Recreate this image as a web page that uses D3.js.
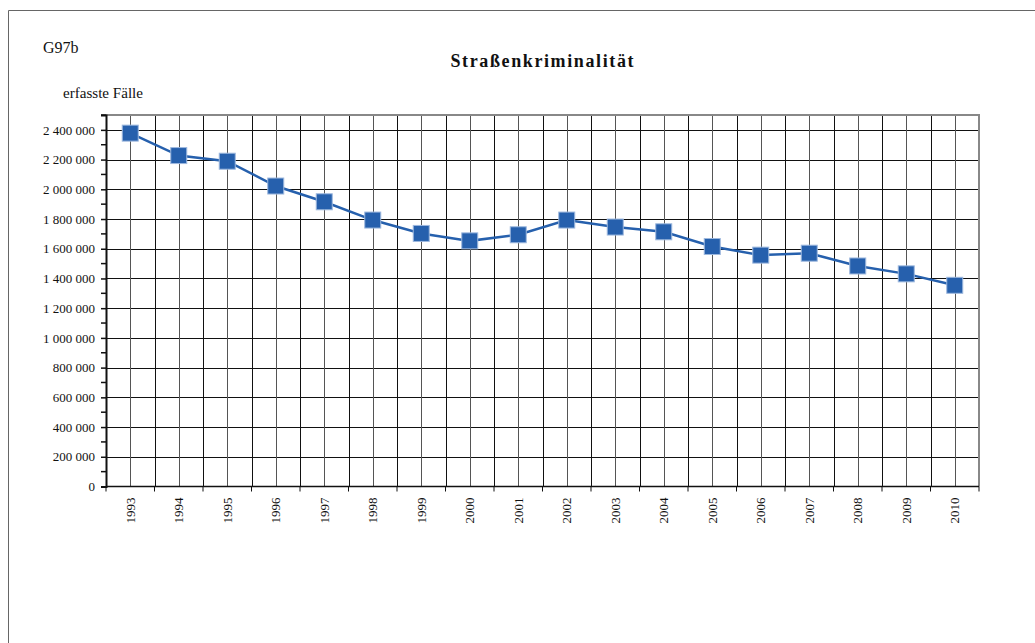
<!DOCTYPE html>
<html><head><meta charset="utf-8">
<script src="https://cdn.jsdelivr.net/npm/d3@7"></script>
<style>
html,body{margin:0;padding:0;background:#fff;}
svg{display:block;}
svg text{font-family:"Liberation Serif","Times New Roman",serif !important;}
</style></head>
<body>
<svg id="c" width="1035" height="643"></svg>
<script>
const years = ["1993","1994","1995","1996","1997","1998","1999","2000","2001","2002","2003","2004","2005","2006","2007","2008","2009","2010"];
const cases = [2378000,2227000,2189000,2022000,1916000,1793000,1703000,1653000,1694000,1793000,1746000,1714000,1615000,1557000,1570000,1484000,1431000,1354000];
const yTicks = [0,200000,400000,600000,800000,1000000,1200000,1400000,1600000,1800000,2000000,2200000,2400000];
const yMinor = [100000,300000,500000,700000,900000,1100000,1300000,1500000,1700000,1900000,2100000,2300000,2500000];
const chartTitle = "Straßenkriminalität";
const chartId = "G97b";
const yTitle = "erfasste Fälle";

const svg = d3.select("#c");
const L = 106, R = 979, T = 115, B = 486.5;
const x = d3.scaleBand().domain(years).range([L, R]).padding(0);
const y = d3.scaleLinear().domain([0, 2500000]).range([B, T]);
const blue = "#2660AD";

// outer frame
svg.append("line").attr("x1",8.5).attr("x2",1035).attr("y1",10.5).attr("y2",10.5).attr("stroke","#666").attr("stroke-width",1);
svg.append("line").attr("x1",8.5).attr("x2",8.5).attr("y1",10.5).attr("y2",643).attr("stroke","#666").attr("stroke-width",1);

// texts
svg.append("text").attr("x",43).attr("y",53).attr("font-size",16).attr("fill","#111").text(chartId);
svg.append("text").attr("x",542).attr("y",67).attr("text-anchor","middle").attr("font-size",18).attr("font-weight","bold")
  .attr("textLength",183).attr("lengthAdjust","spacing").attr("fill","#111").text(chartTitle);
svg.append("text").attr("x",63).attr("y",98).attr("font-size",14).attr("textLength",80).attr("lengthAdjust","spacingAndGlyphs").attr("fill","#111").text(yTitle);

// gridlines horizontal
const g = svg.append("g");
g.selectAll("line.h").data(yTicks.filter(d=>d>0)).join("line")
  .attr("x1",L).attr("x2",R).attr("y1",d=>Math.round(y(d))+0.5).attr("y2",d=>Math.round(y(d))+0.5)
  .attr("stroke","#111").attr("stroke-width",1);
// vertical gridlines: category centers and boundaries
const bounds = years.slice(1).map(d=>x(d));
g.selectAll("line.vb").data(bounds).join("line")
  .attr("x1",d=>Math.round(d)+0.5).attr("x2",d=>Math.round(d)+0.5).attr("y1",T).attr("y2",B)
  .attr("stroke","#111").attr("stroke-width",1);
g.selectAll("line.vc").data(years).join("line")
  .attr("x1",d=>Math.round(x(d)+x.bandwidth()/2)+0.5).attr("x2",d=>Math.round(x(d)+x.bandwidth()/2)+0.5).attr("y1",T).attr("y2",B)
  .attr("stroke","#555").attr("stroke-width",1);

// plot border top/right
svg.append("line").attr("x1",L).attr("x2",R+1).attr("y1",T).attr("y2",T).attr("stroke","#888").attr("stroke-width",2);
svg.append("line").attr("x1",R).attr("x2",R).attr("y1",T).attr("y2",B).attr("stroke","#888").attr("stroke-width",2);

// y axis
const yAxis = d3.axisLeft(y).tickValues(yTicks).tickSize(5).tickPadding(6)
  .tickFormat(d => d3.format(",")(d).replace(/,/g," "));
const ya = svg.append("g").attr("transform",`translate(${L},0)`).call(yAxis).attr("font-family",null);
ya.select(".domain").attr("stroke","#111").attr("stroke-width",2);
ya.selectAll(".tick line").attr("stroke","#111").attr("stroke-width",1.5);
ya.selectAll(".tick text").attr("font-size",13).attr("fill","#111");
svg.append("g").selectAll("line").data(yMinor).join("line")
  .attr("x1",L-5).attr("x2",L).attr("y1",d=>y(d)).attr("y2",d=>y(d)).attr("stroke","#111").attr("stroke-width",1.5);

// x axis
const xa = svg.append("g").attr("transform",`translate(0,${B})`);
xa.append("line").attr("x1",L).attr("x2",R).attr("y1",0).attr("y2",0).attr("stroke","#111").attr("stroke-width",1.5);
xa.selectAll("line.t").data(years.map(d=>x(d)).concat([R])).join("line")
  .attr("x1",d=>d).attr("x2",d=>d).attr("y1",0).attr("y2",5).attr("stroke","#111").attr("stroke-width",1);
xa.selectAll("text").data(years).join("text")
  .attr("transform",d=>`translate(${x(d)+x.bandwidth()/2},11) rotate(-90)`)
  .attr("text-anchor","end").attr("dy","0.35em").attr("font-size",13).attr("fill","#111").text(d=>d);

// line + markers
const pts = years.map((d,i)=>[x(d)+x.bandwidth()/2, y(cases[i])]);
svg.append("path").attr("d",d3.line()(pts)).attr("fill","none").attr("stroke",blue).attr("stroke-width",2.5);
svg.append("g").selectAll("rect").data(years).join("rect")
  .attr("x",(d,i)=>x(d)+x.bandwidth()/2-8).attr("y",(d,i)=>y(cases[i])-8)
  .attr("width",16).attr("height",16).attr("fill",blue).attr("stroke","#9DB8DE").attr("stroke-width",1);
</script>
</body></html>
